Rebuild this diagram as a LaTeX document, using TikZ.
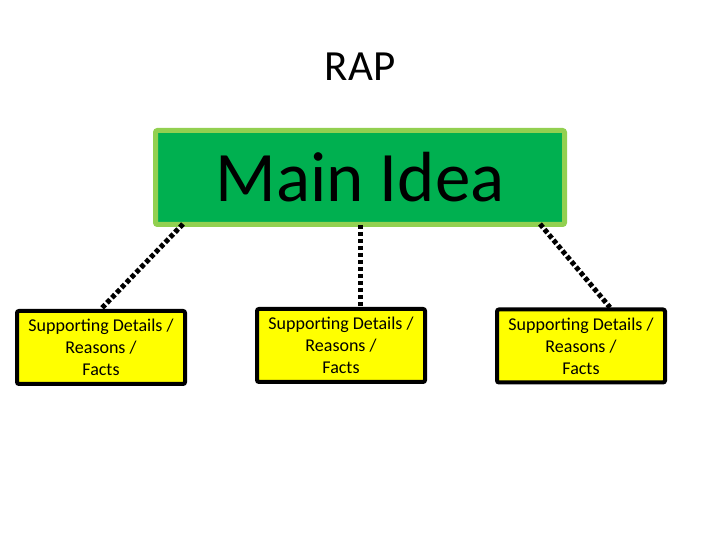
\documentclass[tikz,border=0pt]{standalone}
\usepackage{fontspec}
\setmainfont{Carlito}
\usepackage{tikz}
\usetikzlibrary{positioning}
\usepackage{xcolor}
\definecolor{ideagreen}{HTML}{00B050}
\definecolor{idearim}{HTML}{92D050}
\definecolor{detailyellow}{HTML}{FFFF00}

\tikzset{
  detailbox/.style={draw=black,line width=4pt,fill=detailyellow,rounded corners=2pt,
    minimum width=168pt,minimum height=73pt,inner sep=0pt,align=center,
    font=\fontsize{18}{22}\selectfont},
  dotline/.style={line width=5pt,dash pattern=on 4.5pt off 2.5pt}
}

\begin{document}
\begin{tikzpicture}[x=1pt,y=1pt]
    \fill[white] (0,0) rectangle (720,540);
    \useasboundingbox (0,0) rectangle (720,540);

    \node (title) at (360,473) {\fontsize{43}{48}\selectfont RAP};

    \node[draw=idearim,line width=5pt,fill=ideagreen,rounded corners=2pt,
      minimum width=409pt,minimum height=94pt,inner sep=0pt] (main) at (360,362.5)
      {\fontsize{71}{76}\selectfont Main Idea};

    \node[detailbox] (left) at (101,192.5) {Supporting Details /\\Reasons /\\Facts};
    \node[detailbox] (middle) at (341,194.5) {Supporting Details /\\Reasons /\\Facts};
    \node[detailbox] (right) at (581,194) {Supporting Details /\\Reasons /\\Facts};

    \coordinate (leftfoot) at ([xshift=30pt,yshift=3pt]main.south west);
    \coordinate (rightfoot) at ([xshift=-27pt,yshift=3pt]main.south east);
    \coordinate (rightend) at ([xshift=29pt]right.north);
    \draw[dotline] (leftfoot) -- (left.north);
    \draw[dotline] ([yshift=2pt]main.south) -- (middle.north -| main.south);
    \draw[dotline] (rightfoot) -- (rightend);
\end{tikzpicture}
\end{document}
